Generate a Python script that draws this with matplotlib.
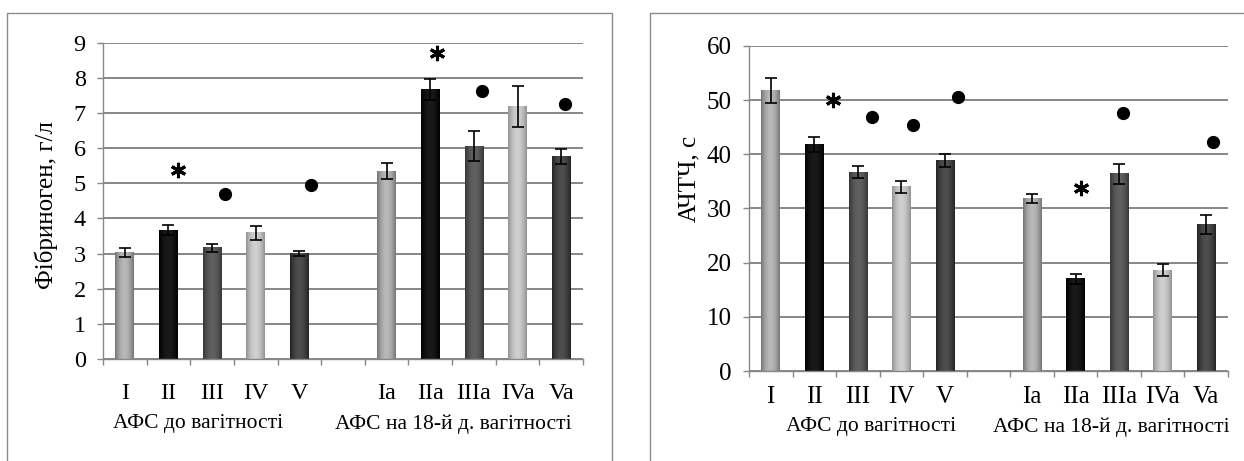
import numpy as np
import matplotlib.pyplot as plt
from matplotlib.colors import to_rgb
from matplotlib.lines import Line2D

plt.rcParams['font.family'] = ['Liberation Serif', 'DejaVu Serif']

# категорії
labels_1 = ['I', 'II', 'III', 'IV', 'V']
labels_2 = ['Ia', 'IIa', 'IIIa', 'IVa', 'Va']
groups = ['АФС до вагітності', 'АФС на 18-й д. вагітності']

# фібриноген, г/л
fib_1 = [3.03, 3.67, 3.16, 3.59, 3.01]
fib_1_err = [0.14, 0.13, 0.11, 0.19, 0.07]
fib_2 = [5.34, 7.67, 6.06, 7.18, 5.76]
fib_2_err = [0.23, 0.29, 0.44, 0.59, 0.22]
fib_star = {'II': 5.38, 'IIa': 8.70}
fib_dot = {'III': 4.70, 'V': 4.95, 'IIIa': 7.63, 'Va': 7.25}

# АЧТЧ, с
aptt_1 = [51.7, 41.8, 36.7, 34.0, 38.8]
aptt_1_err = [2.3, 1.4, 1.1, 1.1, 1.2]
aptt_2 = [31.9, 17.0, 36.4, 18.6, 27.0]
aptt_2_err = [0.8, 1.0, 1.9, 1.1, 1.8]
aptt_star = {'II': 50.0, 'IIa': 33.7}
aptt_dot = {'III': 46.8, 'IV': 45.35, 'V': 50.5, 'IIIa': 47.55, 'Va': 42.3}

# зсув позначок праворуч від стовпчика (у частках категорії)
fib_nudge = {'II': 0.22, 'IIa': 0.15, 'III': 0.3, 'V': 0.27, 'IIIa': 0.19, 'Va': 0.08}
aptt_nudge = {'II': 0.42, 'IIa': 0.12, 'III': 0.32, 'IV': 0.27, 'V': 0.31, 'IIIa': 0.1, 'Va': 0.16}

# (край, середина) циліндра для кожного з п'яти стовпчиків групи
shades = [('#747474', '#b8b8b8'), ('#000000', '#1a1a1a'), ('#363636', '#606060'),
          ('#909090', '#d0d0d0'), ('#222222', '#4e4e4e')]

GRAY = '#878787'
W, H = 1244, 461


def cyl_bar(ax, x, h, w, edge, mid):
    u = np.linspace(0, 1, 64)
    p = np.sin(np.pi * u) ** 0.9
    e = np.array(to_rgb(edge))
    m = np.array(to_rgb(mid))
    img = e[None, :] + (m - e)[None, :] * p[:, None]
    ax.imshow(img[None, :, :], extent=(x - w / 2, x + w / 2, 0, h), aspect='auto',
              zorder=2, interpolation='bilinear')


def draw_panel(ax, v1, e1, v2, e2, stars, dots, nudge, ymax, ystep,
               fs_tick, fs_group, xpad, group_y, group_x):
    pos = list(range(5)) + list(range(6, 11))
    names = labels_1 + labels_2
    vals = v1 + v2
    errs = e1 + e2
    bw = 0.43
    cols = [shades[i % 5] for i in range(10)]
    ax.bar(pos, vals, width=bw, color=[c[0] for c in cols], zorder=1.9)
    for x, v, c in zip(pos, vals, cols):
        cyl_bar(ax, x, v, bw, c[0], c[1])
    ax.errorbar(pos, vals, yerr=errs, fmt='none', ecolor='black', elinewidth=1.2,
                capsize=4, capthick=1.2, zorder=4)

    idx = dict(zip(names, pos))
    for k, y in stars.items():
        ax.plot(idx[k] + nudge[k], y, marker=(6, 2, 0), ms=11, mew=2.2,
                color='black', zorder=5, clip_on=False)
    for k, y in dots.items():
        ax.plot(idx[k] + nudge[k], y, marker='o', ms=8.5, color='black', zorder=5)

    ax.set_xlim(-0.5, 10.5)
    ax.set_ylim(0, ymax)
    ax.set_yticks(np.arange(0, ymax + 1, ystep))
    ax.set_xticks(np.arange(-0.5, 11, 1))
    ax.set_xticklabels([])
    ax.set_xticks(pos, names, minor=True)
    ax.tick_params(axis='x', which='major', length=4.5, width=1, color=GRAY)
    ax.tick_params(axis='x', which='minor', length=0, labelsize=fs_tick, pad=xpad)
    ax.tick_params(axis='y', length=4.5, width=1, color=GRAY, labelsize=fs_tick, pad=8)
    for s in ['top', 'right']:
        ax.spines[s].set_visible(False)
    for s in ['left', 'bottom']:
        ax.spines[s].set_color(GRAY)
        ax.spines[s].set_linewidth(1)
    ax.yaxis.grid(True, color=GRAY, lw=1.4)
    ax.set_axisbelow(True)
    tr = ax.get_xaxis_transform()
    for g, gx in zip(groups, group_x):
        ax.text(gx, group_y, g, transform=tr, ha='center', va='center', fontsize=fs_group)


fig = plt.figure(figsize=(W / 100, H / 100), dpi=100)

ax1 = fig.add_axes([103 / W, 1 - 359 / H, 480 / W, (359 - 42.7) / H])
draw_panel(ax1, fib_1, fib_1_err, fib_2, fib_2_err, fib_star, fib_dot, fib_nudge,
           9, 1, 17.5, 15.5, 17, -0.205, [1.68, 7.53])
fig.text(46 / W, 1 - 205 / H, 'Фібриноген, г/л', rotation=90, ha='center', va='center',
         fontsize=18)

ax2 = fig.add_axes([749 / W, 1 - 371 / H, 479 / W, (371 - 46) / H])
draw_panel(ax2, aptt_1, aptt_1_err, aptt_2, aptt_2_err, aptt_star, aptt_dot, aptt_nudge,
           60, 10, 18, 15.5, 11, -0.172, [2.3, 7.81])
fig.text(689 / W, 1 - 179 / H, 'АЧТЧ, с', rotation=90, ha='center', va='center',
         fontsize=18)


def fig_line(xs, ys):
    fig.add_artist(Line2D([x / W for x in xs], [1 - y / H for y in ys],
                          transform=fig.transFigure, color='#8c8c8c', lw=1.0))


# рамки діаграм
fig_line([7.5, 7.5, 612, 612], [H, 13.5, 13.5, H])
fig_line([650, 650, W], [H, 13.5, 13.5])

fig.savefig('out.png', dpi=100)
